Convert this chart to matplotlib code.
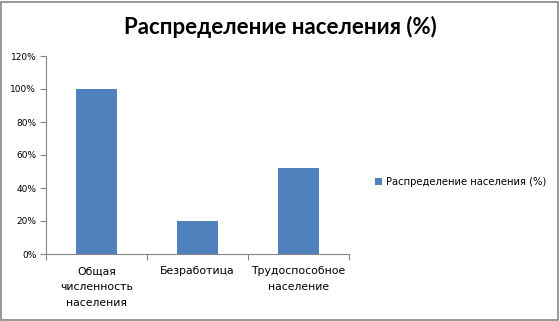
import matplotlib
matplotlib.use("Agg")
import matplotlib.pyplot as plt
from matplotlib.patches import Rectangle
from matplotlib.ticker import FixedLocator, PercentFormatter

categories = ["Общая\nчисленность\nнаселения", "Безработица", "Трудоспособное\nнаселение"]
values = [100, 20, 52]
series_name = "Распределение населения (%)"
yticks = [0, 20, 40, 60, 80, 100, 120]

W, H = 560, 321
fig = plt.figure(figsize=(W/100, H/100), dpi=100)
fig.patches.append(Rectangle((1/W, 1/H), 1-3/W, 1-3/H, transform=fig.transFigure,
                             fill=False, edgecolor="#868686", linewidth=1.2))

ax = fig.add_axes([46/W, 1-254/H, (349-46)/W, (254-56)/H])
x = list(range(len(categories)))
ax.bar(x, values, width=0.4, color="#4F81BD", label=series_name)
ax.set_xlim(-0.5, len(categories)-0.5)
ax.set_ylim(0, 120)
ax.set_yticks(yticks)
ax.yaxis.set_major_formatter(PercentFormatter(decimals=0))
ax.set_xticks(x)
ax.set_xticklabels(categories, fontsize=7.8, fontfamily="DejaVu Sans", linespacing=1.75)
ax.xaxis.set_minor_locator(FixedLocator([i-0.5 for i in range(len(categories)+1)]))
ax.tick_params(axis="x", which="major", length=0, pad=9)
ax.tick_params(axis="x", which="minor", length=4, color="#868686", width=0.8)
ax.tick_params(axis="y", length=4, color="#868686", width=0.8, labelsize=6.5, pad=3)
for lab in ax.get_yticklabels():
    lab.set_fontfamily("DejaVu Sans")
for s in ["top", "right"]:
    ax.spines[s].set_visible(False)
for s in ["left", "bottom"]:
    ax.spines[s].set_color("#868686")
    ax.spines[s].set_linewidth(0.8)

fig.text(280/W, 1-27/H, "Распределение населения (%)", ha="center", va="center",
         fontsize=16, fontweight="bold", fontfamily="Lato")
fig.legend(loc="center left", bbox_to_anchor=(366/W, 1-182/H), frameon=False,
           handlelength=0.7, handleheight=0.7, handletextpad=0.4,
           prop={"family": "DejaVu Sans", "size": 7.2})

fig.savefig("out.png", dpi=100)
